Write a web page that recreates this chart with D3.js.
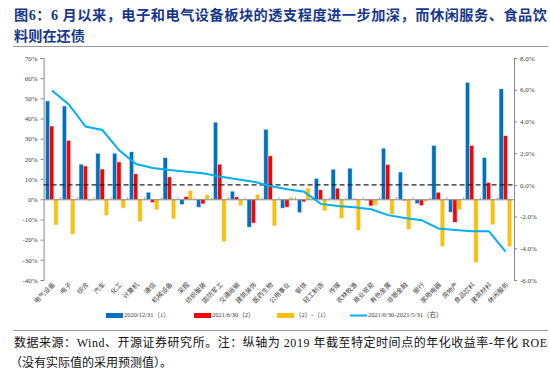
<!DOCTYPE html>
<html><head><meta charset="utf-8">
<script src="https://cdn.jsdelivr.net/npm/d3@7"></script>
<style>
body{margin:0;background:#fff;}
svg{display:block;}
</style></head>
<body>
<svg id="chart" width="550" height="370"></svg>
<script>
const categories = ["电气设备","电子","综合","汽车","化工","计算机","通信","机械设备","采掘","纺织服装","国防军工","交通运输","建筑装饰","医药生物","公用事业","钢铁","轻工制造","传媒","农林牧渔","商业贸易","有色金属","非银金融","银行","家用电器","房地产","食品饮料","建筑材料","休闲服务"];
const s2020 = [48.7,46.2,17.4,22.8,22.8,23.5,3.5,20.6,-2.6,-3.9,38.2,4.0,-13.8,34.7,-4.4,-6.6,10.3,14.9,15.4,-0.6,25.3,13.5,-2.1,26.7,-6.4,57.9,20.6,54.7];
const s2021 = [36.3,29.2,16.5,15.0,18.5,12.6,-1.6,11.1,1.3,-2.3,17.4,1.2,-11.8,21.5,-3.9,-1.3,4.7,5.5,0.3,-3.3,17.2,-0.7,-3.1,3.5,-11.4,26.7,8.3,31.5];
const sDiff = [-12.7,-17.3,-0.8,-7.9,-4.3,-11.0,-5.2,-9.7,4.2,2.2,-20.9,-3.1,2.5,-13.2,0.8,5.5,-5.7,-9.5,-15.3,-2.9,-7.4,-14.9,-1.1,-23.3,-5.2,-31.2,-12.6,-23.4];
const sLine = [5.95,5.07,3.68,3.46,2.18,1.31,1.06,0.94,0.83,0.73,0.52,0.35,0.2,-0.07,-0.28,-0.43,-1.2,-1.33,-1.41,-1.54,-1.91,-2.09,-2.23,-2.75,-2.84,-2.93,-2.92,-4.21];
const leftTicks = [70,60,50,40,30,20,10,0,-10,-20,-30,-40];
const rightTicks = [8,6,4,2,0,-2,-4,-6];
const seriesNames = ["2020/12/31（1）","2021/6/30（2）","（2）-（1）","2021/6/30-2021/5/31（右）"];
const colors = ["#0070C0","#FF0000","#FFC000","#00B0F0"];
const titleLines = ["图6：6 月以来，电子和电气设备板块的透支程度进一步加深，而休闲服务、食品饮","料则在还债"];
const noteLines = ["数据来源：Wind、开源证券研究所。注：纵轴为 2019 年截至特定时间点的年化收益率-年化 ROE","（没有实际值的采用预测值）。"];

const svg = d3.select("#chart");
const L = 43.6, R = 514, T = 58, B = 280;
const x = d3.scaleBand().domain(categories).range([L, R]).padding(0);
const yL = d3.scaleLinear().domain([-40,70]).range([B,T]);
const yR = d3.scaleLinear().domain([-6,8]).range([B,T]);
const bw = x.bandwidth();
const xs = d3.scaleBand().domain([0,1,2]).range([bw*0.11, bw*0.86]).padding(0);

const cjk = "'Noto Sans CJK SC', sans-serif";
const mixed = "'Liberation Serif','Noto Sans CJK SC', serif";

// title
svg.selectAll("text.title").data(titleLines).join("text")
  .attr("class","title")
  .attr("x",14).attr("y",(d,i)=>20+i*21)
  .attr("font-family",mixed).attr("font-weight","bold")
  .attr("font-size",14.2).attr("fill","#17378A")
  .each(function(d,i){ if(i===0) d3.select(this).attr("textLength",533).attr("lengthAdjust","spacing"); })
  .text(d=>d);
svg.append("line").attr("x1",13).attr("x2",548).attr("y1",46.5).attr("y2",46.5)
  .attr("stroke","#999").attr("stroke-width",1);

// left axis
const gL = svg.append("g").attr("transform",`translate(${L},0)`)
  .call(d3.axisLeft(yL).tickValues(leftTicks).tickSize(3).tickFormat(d=>d+"%"));
gL.select(".domain").attr("stroke","#868686");
gL.selectAll(".tick line").attr("stroke","#868686");
gL.selectAll("text").attr("font-family","'Liberation Serif', serif").attr("font-size",7).attr("fill","#404040");

// right axis
const gR = svg.append("g").attr("transform",`translate(${R},0)`)
  .call(d3.axisRight(yR).tickValues(rightTicks).tickSize(3).tickFormat(d=>d.toFixed(1)+"%"));
gR.select(".domain").attr("stroke","#868686");
gR.selectAll(".tick line").attr("stroke","#868686");
gR.selectAll("text").attr("font-family","'Liberation Serif', serif").attr("font-size",7).attr("fill","#404040");

// bars
const series = [s2020, s2021, sDiff];
series.forEach((arr,si)=>{
  svg.append("g").selectAll("rect").data(arr).join("rect")
    .attr("x",(d,i)=>x(categories[i])+xs(si))
    .attr("width",xs.bandwidth())
    .attr("y",d=>yL(Math.max(0,d)))
    .attr("height",d=>Math.abs(yL(d)-yL(0)))
    .attr("fill",colors[si])
    .attr("stroke","#DDEBF7").attr("stroke-width",0.5);
});

// zero axis with category ticks
const gX = svg.append("g").attr("transform",`translate(0,${yL(0)})`)
  .call(d3.axisBottom(x).tickSize(0).tickFormat(""));
gX.select(".domain").attr("stroke","#868686");
svg.append("g").selectAll("line").data(categories.slice(1)).join("line")
  .attr("x1",d=>x(d)).attr("x2",d=>x(d))
  .attr("y1",yL(0)-2).attr("y2",yL(0))
  .attr("stroke","#868686").attr("stroke-width",0.8);

// dashed zero (right)
svg.append("line").attr("x1",L).attr("x2",R).attr("y1",yR(0)).attr("y2",yR(0))
  .attr("stroke","#222").attr("stroke-width",1.2).attr("stroke-dasharray","5,3");

// line
const line = d3.line().x((d,i)=>x(categories[i])+bw/2).y(d=>yR(d));
svg.append("path").datum(sLine).attr("d",line)
  .attr("fill","none").attr("stroke",colors[3]).attr("stroke-width",2);

// category labels
svg.append("g").selectAll("text").data(categories).join("text")
  .attr("transform",d=>`translate(${x(d)+bw/2+2},${B+4}) rotate(-45)`)
  .attr("text-anchor","end").attr("dominant-baseline","middle")
  .attr("font-family",cjk).attr("font-size",6.5).attr("fill","#404040")
  .text(d=>d);

// legend
const legX = [106,194,277,350];
const lg = svg.append("g");
seriesNames.forEach((n,i)=>{
  lg.append("rect").attr("x",legX[i]).attr("y",i===3?314.5:313).attr("width",17).attr("height",i===3?2:5).attr("fill",colors[i]);
  lg.append("text").attr("x",legX[i]+18).attr("y",316)
    .attr("dominant-baseline","middle")
    .attr("font-family",mixed).attr("font-size",6.5).attr("fill","#404040")
    .text(n);
});

svg.append("line").attr("x1",13).attr("x2",548).attr("y1",330.5).attr("y2",330.5)
  .attr("stroke","#999").attr("stroke-width",1);

svg.selectAll("text.note").data(noteLines).join("text")
  .attr("class","note")
  .attr("x",(d,i)=>i===0?14:10).attr("y",(d,i)=>347+i*20)
  .attr("font-family",mixed)
  .attr("font-size",12).attr("fill","#111")
  .each(function(d,i){ if(i===0) d3.select(this).attr("textLength",533).attr("lengthAdjust","spacing"); })
  .text(d=>d);
</script>
</body></html>
